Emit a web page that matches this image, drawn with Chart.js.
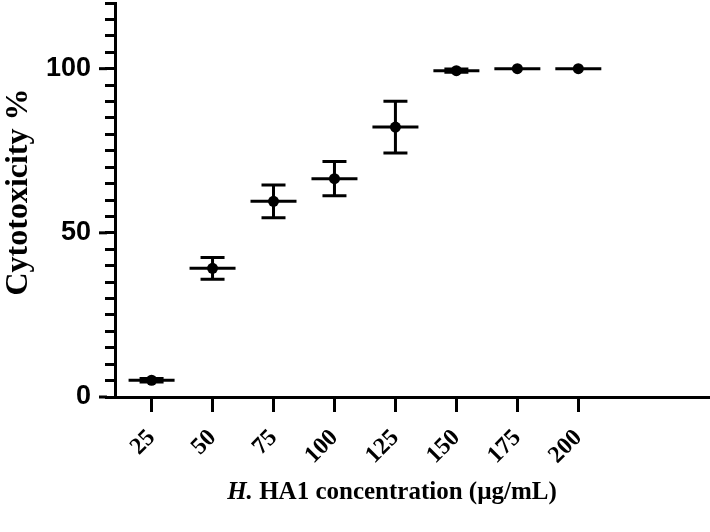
<!DOCTYPE html>
<html lang="en">
<head>
  <meta charset="UTF-8">
  <title>Cytotoxicity</title>
  <script src="https://cdn.jsdelivr.net/npm/chart.js"></script>
  <style>
    html, body { margin: 0; padding: 0; background: #fff; }
    #wrap { position: relative; width: 710px; height: 532px; }
    #xTitle {
      position: absolute; left: 0; width: 784px; top: 477px;
      text-align: center; font: bold 25px "Liberation Serif", "Times New Roman", serif; color: #000;
    }
  </style>
</head>
<body>

<div id="wrap">
  <canvas id="myChart" width="710" height="532"></canvas>
  <div id="xTitle"><i>H.</i> HA1 concentration (µg/mL)</div>
</div>

<script>
  const concentrations = [25, 50, 75, 100, 125, 150, 175, 200];
  const cytotoxicity = [5.1, 39.2, 59.6, 66.5, 82.2, 99.4, 100, 100];
  const sd = [0.5, 3.3, 5.0, 5.2, 7.9, 0.5, 0, 0];
  const yMajorTicks = [0, 50, 100];

  const points = concentrations.map((c, i) => ({ x: c, y: cytotoxicity[i] }));

  // error bars + longer major ticks on the y axis
  const errorBars = {
    id: 'errorBars',
    afterDatasetsDraw(chart) {
      const ctx = chart.ctx;
      const xs = chart.scales.x, ys = chart.scales.y;
      ctx.save();
      ctx.strokeStyle = '#000';
      ctx.lineWidth = 3;
      concentrations.forEach((c, i) => {
        if (!sd[i]) return;
        const px = xs.getPixelForValue(c);
        const top = ys.getPixelForValue(cytotoxicity[i] + sd[i]);
        const bot = ys.getPixelForValue(cytotoxicity[i] - sd[i]);
        ctx.beginPath();
        ctx.moveTo(px, top); ctx.lineTo(px, bot);
        ctx.moveTo(px - 12, top); ctx.lineTo(px + 12, top);
        ctx.moveTo(px - 12, bot); ctx.lineTo(px + 12, bot);
        ctx.stroke();
      });
      const left = chart.chartArea.left;
      yMajorTicks.forEach(v => {
        const py = ys.getPixelForValue(v);
        ctx.beginPath();
        ctx.moveTo(left - 16, py); ctx.lineTo(left - 8, py);
        ctx.stroke();
      });
      ctx.restore();
    }
  };

  const ctx = document.getElementById('myChart').getContext('2d');

  const myChart = new Chart(ctx, {
    type: 'scatter',
    data: {
      datasets: [{
        label: 'mean',
        data: points,
        pointStyle: 'line',
        pointRadius: 23,
        borderColor: '#000',
        borderWidth: 3,
        showLine: false,
        clip: false
      }, {
        label: 'Cytotoxicity %',
        data: points,
        pointStyle: 'circle',
        pointRadius: 5.5,
        backgroundColor: '#000',
        borderColor: '#000',
        borderWidth: 0,
        showLine: false,
        clip: false
      }]
    },
    options: {
      responsive: false,
      animation: false,
      layout: { autoPadding: false, padding: { top: 3, right: 0, bottom: 0, left: 0 } },
      plugins: {
        legend: { display: false },
        tooltip: { enabled: false }
      },
      scales: {
        x: {
          type: 'linear',
          min: 10,
          max: 254,
          afterBuildTicks: (s) => { s.ticks = concentrations.map(v => ({ value: v })); },
          afterFit: (s) => { s.height = 135; s.paddingLeft = 0; s.paddingRight = 0; },
          border: { color: '#000', width: 3 },
          grid: { drawOnChartArea: false, tickLength: 15, tickWidth: 3, tickColor: '#000' },
          ticks: {
            color: '#000',
            minRotation: 45,
            maxRotation: 45,
            padding: 12,
            font: { family: '"Liberation Serif", "Times New Roman", serif', weight: 'bold', size: 24 }
          }
        },
        y: {
          min: 0,
          max: 120,
          afterFit: (s) => { s.width = 115; s.paddingTop = 0; s.paddingBottom = 0; },
          border: { color: '#000', width: 3 },
          grid: { drawOnChartArea: false, tickLength: 10, tickWidth: 3, tickColor: '#000' },
          ticks: {
            stepSize: 5,
            autoSkip: false,
            color: '#000',
            padding: 14,
            callback: (v) => yMajorTicks.includes(v) ? String(v) : '',
            font: { family: '"Liberation Sans", Arial, sans-serif', weight: 'bold', size: 27 }
          },
          title: {
            display: true,
            text: '\u00A0\u00A0Cytotoxicity %',
            color: '#000',
            padding: 0,
            font: { family: '"Liberation Serif", "Times New Roman", serif', weight: 'bold', size: 32 }
          }
        }
      }
    },
    plugins: [errorBars]
  });
</script>

</body>
</html>
